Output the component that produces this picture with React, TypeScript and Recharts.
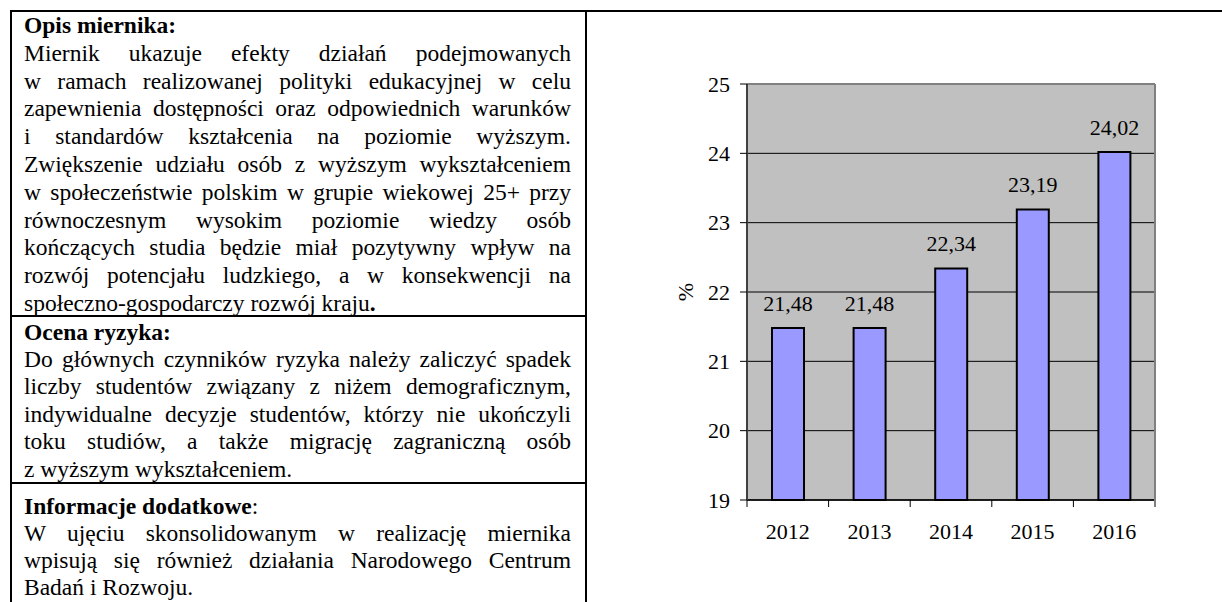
import React from 'react'
import { BarChart, Bar, XAxis, YAxis, CartesianGrid, LabelList, ReferenceLine, Label } from 'recharts'

const years = ['2012', '2013', '2014', '2015', '2016']
const shares = [21.48, 21.48, 22.34, 23.19, 24.02]
const yTicks = [19, 20, 21, 22, 23, 24, 25]

const descLines = [
  'Miernik ukazuje efekty działań podejmowanych',
  'w\u00A0ramach realizowanej polityki edukacyjnej w celu',
  'zapewnienia dostępności oraz odpowiednich warunków',
  'i standardów kształcenia na poziomie wyższym.',
  'Zwiększenie udziału osób z wyższym wykształceniem',
  'w\u00A0społeczeństwie polskim w grupie wiekowej 25+ przy',
  'równoczesnym wysokim poziomie wiedzy osób',
  'kończących studia będzie miał pozytywny wpływ na',
  'rozwój potencjału ludzkiego, a w konsekwencji na',
]
const descLast = 'społeczno-gospodarczy rozwój kraju'

const riskLines = [
  'Do głównych czynników ryzyka należy zaliczyć spadek',
  'liczby studentów związany z niżem demograficznym,',
  'indywidualne decyzje studentów, którzy nie ukończyli',
  'toku studiów, a także migrację zagraniczną osób',
  'z wyższym wykształceniem.',
]

const infoLines = [
  'W ujęciu skonsolidowanym w realizację miernika',
  'wpisują się również działania Narodowego Centrum',
  'Badań i Rozwoju.',
]

const data = years.map((year, i) => ({ year, value: shares[i] }))

const serif = "'Liberation Serif', 'Times New Roman', serif"
const PLOT_W = 408
const BAND = PLOT_W / years.length

function TextLine({ children, last }: { children: React.ReactNode; last?: boolean }) {
  return (
    <div style={{ textAlign: 'justify', textAlignLast: last ? 'left' : 'justify' }}>{children}</div>
  )
}

function XTick(props: any) {
  const { x, y, payload, index } = props
  const half = BAND / 2
  return (
    <g>
      <line x1={x - half} y1={y} x2={x - half} y2={y + 7} stroke="#000" />
      {index === years.length - 1 && (
        <line x1={x + half} y1={y} x2={x + half} y2={y + 7} stroke="#808080" strokeWidth={2} />
      )}
      <text x={x} y={y + 39} textAnchor="middle" fontSize={22} fill="#000">
        {payload.value}
      </text>
    </g>
  )
}

const line = '#000'

export default function App() {
  return (
    <div
      style={{
        position: 'absolute',
        left: 0,
        top: 0,
        width: 1222,
        height: 602,
        overflow: 'hidden',
        background: '#fff',
        fontFamily: serif,
        color: '#000',
      }}
    >
      {/* table frame */}
      <div style={{ position: 'absolute', left: 10, top: 10, width: 1212, height: 2, background: line }} />
      <div style={{ position: 'absolute', left: 10, top: 10, width: 2, height: 592, background: line }} />
      <div style={{ position: 'absolute', left: 585, top: 10, width: 2, height: 592, background: line }} />
      <div style={{ position: 'absolute', left: 10, top: 315, width: 577, height: 2, background: line }} />
      <div style={{ position: 'absolute', left: 10, top: 482, width: 577, height: 2, background: line }} />

      <div style={{ position: 'absolute', left: 24, top: 12, width: 547, fontSize: 23.5, lineHeight: '27.8px' }}>
        <div style={{ fontWeight: 'bold' }}>Opis miernika:</div>
        {descLines.map((t, i) => (
          <TextLine key={i}>{t}</TextLine>
        ))}
        <TextLine last>
          {descLast}
          <b>.</b>
        </TextLine>
      </div>

      <div style={{ position: 'absolute', left: 24, top: 318.5, width: 547, fontSize: 23.5, lineHeight: '27.4px' }}>
        <div style={{ fontWeight: 'bold' }}>Ocena ryzyka:</div>
        {riskLines.map((t, i) => (
          <TextLine key={i} last={i === riskLines.length - 1}>
            {t}
          </TextLine>
        ))}
      </div>

      <div style={{ position: 'absolute', left: 24, top: 493, width: 547, fontSize: 23.5, lineHeight: '27px' }}>
        <div>
          <b>Informacje dodatkowe</b>:
        </div>
        {infoLines.map((t, i) => (
          <TextLine key={i} last={i === infoLines.length - 1}>
            {t}
          </TextLine>
        ))}
      </div>

      <div style={{ position: 'absolute', left: 620, top: 50 }}>
        <BarChart width={560} height={520} data={data} margin={{ top: 34, right: 24, bottom: 30, left: 57 }}>
          <CartesianGrid vertical={false} stroke="#000" fill="#C0C0C0" fillOpacity={1} />
          <XAxis
            dataKey="year"
            interval={0}
            height={40}
            tickLine={false}
            tickSize={0}
            tickMargin={0}
            axisLine={{ stroke: '#000', strokeWidth: 1.5 }}
            tick={<XTick />}
          />
          <YAxis
            type="number"
            domain={[19, 25]}
            ticks={yTicks}
            interval={0}
            width={70}
            tickSize={7}
            tickMargin={10}
            tick={{ fontSize: 22, fill: '#000' }}
            tickLine={{ stroke: '#000' }}
            axisLine={{ stroke: '#404040', strokeWidth: 2 }}
          >
            <Label
              value="%"
              angle={-90}
              position="insideLeft"
              offset={8}
              style={{ textAnchor: 'middle', fontSize: 22, fill: '#000' }}
            />
          </YAxis>
          <YAxis
            yAxisId="r"
            orientation="right"
            type="number"
            domain={[19, 25]}
            width={1}
            tick={false}
            tickLine={false}
            axisLine={{ stroke: '#808080', strokeWidth: 2 }}
          />
          <ReferenceLine y={25} stroke="#808080" strokeWidth={2} />
          <Bar dataKey="value" fill="#9999FF" stroke="#000" strokeWidth={2} barSize={32} isAnimationActive={false}>
            <LabelList
              dataKey="value"
              position="top"
              offset={17}
              fill="#000"
              stroke="none"
              fontSize={22}
              formatter={(v: any) => Number(v).toFixed(2).replace('.', ',')}
            />
          </Bar>
        </BarChart>
      </div>
    </div>
  )
}
